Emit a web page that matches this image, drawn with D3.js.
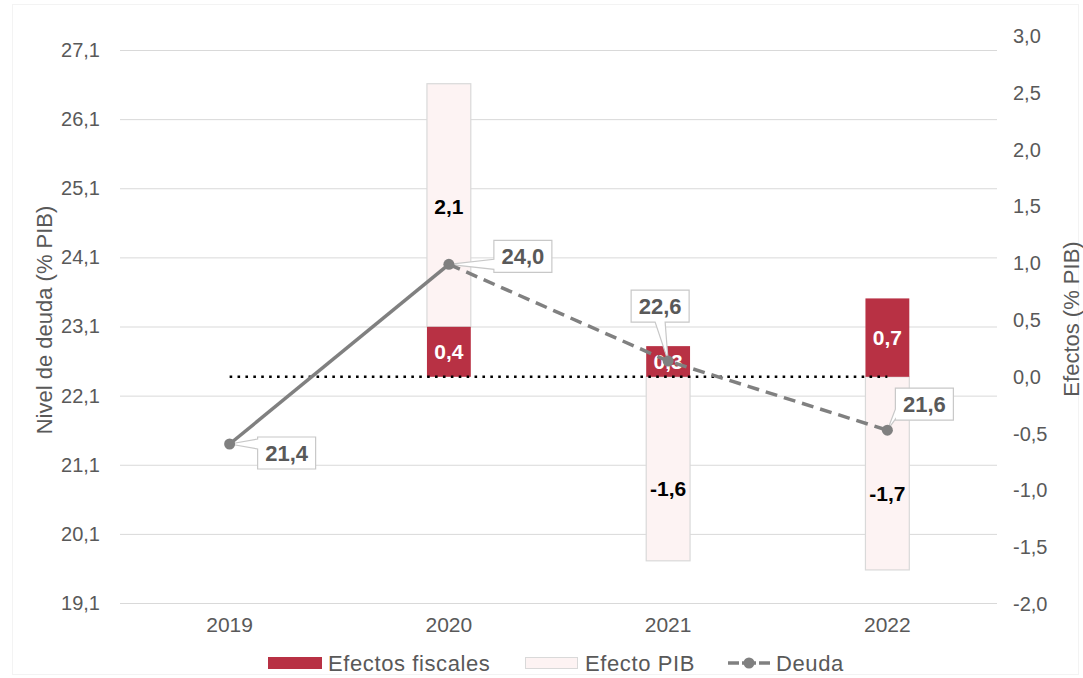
<!DOCTYPE html>
<html>
<head>
<meta charset="utf-8">
<script src="https://cdn.jsdelivr.net/npm/d3@7"></script>
<style>
  html, body { margin: 0; padding: 0; background: #ffffff; }
  svg { display: block; font-family: "Liberation Sans", Arial, sans-serif; }
</style>
</head>
<body>
<svg id="chart" width="1083" height="678"></svg>
<script>
// ---- data ----
const years = ["2019", "2020", "2021", "2022"];
const fiscal = [null, 0.44, 0.27, 0.69];      // Efectos fiscales (right axis)
const pib = [null, 2.14, -1.62, -1.70];       // Efecto PIB (right axis)
const deuda = [21.4, 24.0, 22.6, 21.6];       // Deuda (left axis)
const leftTicks = [19.1, 20.1, 21.1, 22.1, 23.1, 24.1, 25.1, 26.1, 27.1];
const rightTicks = [-2.0, -1.5, -1.0, -0.5, 0.0, 0.5, 1.0, 1.5, 2.0, 2.5, 3.0];
const legendItems = ["Efectos fiscales", "Efecto PIB", "Deuda"];

// ---- layout (not data) ----
const calloutOffsets = [[57, 9], [74, -8], [-8, -55], [37, -26]];
const legendX = [268, 525, 728];
const colFiscal = "#b83144", colPib = "#fdf3f3", colPibStroke = "#d9d9d9";
const colLine = "#808080", colText = "#595959", colGrid = "#d9d9d9";

const loc = d3.formatLocale({decimal: ",", thousands: ".", grouping: [3], currency: ["", "€"], minus: "-"});
const f1 = loc.format(".1f");

const svg = d3.select("#chart");
const plotL = 120, plotR = 997;

const x = d3.scaleBand().domain(years).range([plotL, plotR]);
const cx = d => x(d) + x.bandwidth() / 2;
const barW = x.bandwidth() * 0.2;
const yL = d3.scaleLinear().domain([19.1, 27.1]).range([603, 50]);
const yR = d3.scaleLinear().domain([-2, 3]).range([604, 36]);

// faint chart border
svg.append("rect").attr("x", 12.5).attr("y", 4.5).attr("width", 1066).attr("height", 670)
  .attr("fill", "none").attr("stroke", "#f3f3f3");

// gridlines + left axis
const gL = svg.append("g").attr("transform", `translate(${plotL},0)`)
  .call(d3.axisLeft(yL).tickValues(leftTicks).tickFormat(f1).tickSize(-(plotR - plotL)).tickPadding(20));
gL.select(".domain").remove();
gL.selectAll(".tick line").attr("stroke", colGrid);
gL.selectAll(".tick text").attr("fill", colText).style("font-size", "20px");

// right axis (labels only)
const gR = svg.append("g").attr("transform", `translate(${plotR},0)`)
  .call(d3.axisRight(yR).tickValues(rightTicks).tickFormat(f1).tickSize(0).tickPadding(16));
gR.select(".domain").remove();
gR.selectAll(".tick text").attr("fill", colText).style("font-size", "20px");

// x axis labels
const gX = svg.append("g").attr("transform", `translate(0,603)`)
  .call(d3.axisBottom(x).tickSize(0).tickPadding(14));
gX.select(".domain").remove();
gX.selectAll(".tick text").attr("fill", colText).style("font-size", "21px");

// axis titles
svg.append("text").attr("transform", `translate(52,320) rotate(-90)`).attr("text-anchor", "middle")
  .attr("fill", colText).style("font-size", "22px").text("Nivel de deuda (% PIB)");
svg.append("text").attr("transform", `translate(1079,319) rotate(-90)`).attr("text-anchor", "middle")
  .attr("fill", colText).style("font-size", "22px").text("Efectos (% PIB)");

// bars
const rows = years.map((yr, i) => ({yr, fiscal: fiscal[i], pib: pib[i], deuda: deuda[i]}));
const barG = svg.append("g");
rows.forEach(r => {
  if (r.fiscal == null) return;
  const base = r.pib >= 0 ? r.fiscal : 0;
  const p0 = yR(base), p1 = yR(base + r.pib);
  barG.append("rect").attr("x", cx(r.yr) - barW / 2).attr("width", barW)
    .attr("y", Math.min(p0, p1)).attr("height", Math.abs(p1 - p0))
    .attr("fill", colPib).attr("stroke", colPibStroke).attr("stroke-width", 1.2);
  const f0 = yR(0), fv = yR(r.fiscal);
  barG.append("rect").attr("x", cx(r.yr) - barW / 2).attr("width", barW)
    .attr("y", Math.min(f0, fv)).attr("height", Math.abs(fv - f0))
    .attr("fill", colFiscal);
  barG.append("text").attr("x", cx(r.yr)).attr("y", (f0 + fv) / 2).attr("dy", "0.36em")
    .attr("text-anchor", "middle").attr("fill", "#ffffff").style("font-size", "21px").style("font-weight", "bold")
    .text(f1(r.fiscal));
  const pc = (p0 + p1) / 2 + (r.pib < 0 ? 20 : 1);
  barG.append("text").attr("x", cx(r.yr)).attr("y", pc).attr("dy", "0.36em")
    .attr("text-anchor", "middle").attr("fill", "#000000").style("font-size", "21px").style("font-weight", "bold")
    .text(f1(r.pib));
});

// zero dotted line
svg.append("line").attr("x1", cx(years[0])).attr("x2", cx(years[years.length - 1]))
  .attr("y1", yR(0)).attr("y2", yR(0))
  .attr("stroke", "#000").attr("stroke-width", 2.6).attr("stroke-dasharray", "2.6,5.3");

// deuda line: solid first segment, dashed after
const lineG = svg.append("g");
const seg = d3.line().x(d => cx(d.yr)).y(d => yL(d.deuda));
lineG.append("path").datum(rows.slice(0, 2)).attr("d", seg).attr("fill", "none")
  .attr("stroke", colLine).attr("stroke-width", 3.5);
lineG.append("path").datum(rows.slice(1)).attr("d", seg).attr("fill", "none")
  .attr("stroke", colLine).attr("stroke-width", 3.5).attr("stroke-dasharray", "12,7");

// callouts
function calloutPath(px, py, bx, by, w, h) {
  const x0 = bx - w / 2, x1 = bx + w / 2, y0 = by - h / 2, y1 = by + h / 2;
  const cl = (v, a, b) => Math.max(a, Math.min(b, v));
  const hw = 5;
  let p = [];
  if (px < x0) {
    const m = cl(py, y0 + hw + 1, y1 - hw - 1);
    p = [[x0, y0], [x1, y0], [x1, y1], [x0, y1], [x0, m + hw], [px, py], [x0, m - hw]];
  } else if (px > x1) {
    const m = cl(py, y0 + hw + 1, y1 - hw - 1);
    p = [[x0, y0], [x1, y0], [x1, m - hw], [px, py], [x1, m + hw], [x1, y1], [x0, y1]];
  } else if (py > y1) {
    const m = cl(px - 8, x0 + hw + 1, x1 - hw - 1);
    p = [[x0, y0], [x1, y0], [x1, y1], [m + hw, y1], [px, py], [m - hw, y1], [x0, y1]];
  } else {
    const m = cl(px, x0 + hw + 1, x1 - hw - 1);
    p = [[x0, y0], [m - hw, y0], [px, py], [m + hw, y0], [x1, y0], [x1, y1], [x0, y1]];
  }
  return "M" + p.map(q => q.join(",")).join("L") + "Z";
}
const calG = svg.append("g");
rows.forEach((r, i) => {
  const px = cx(r.yr), py = yL(r.deuda);
  const bx = px + calloutOffsets[i][0], by = py + calloutOffsets[i][1];
  calG.append("path").attr("d", calloutPath(px, py, bx, by, 58, 32))
    .attr("fill", "#ffffff").attr("stroke", "#c8c8c8").attr("stroke-width", 1.2);
  calG.append("text").attr("x", bx).attr("y", by).attr("dy", "0.36em").attr("text-anchor", "middle")
    .attr("fill", colText).style("font-size", "22px").style("font-weight", "bold").text(f1(r.deuda));
});

// markers
lineG.selectAll("circle").data(rows).join("circle")
  .attr("cx", d => cx(d.yr)).attr("cy", d => yL(d.deuda)).attr("r", 5.5).attr("fill", colLine);
svg.node().appendChild(lineG.node());

// legend
const leg = svg.append("g").attr("transform", "translate(0,663)");
legendItems.forEach((name, i) => {
  const g = leg.append("g").attr("transform", `translate(${legendX[i]},0)`);
  if (i === 0) {
    g.append("rect").attr("x", 0).attr("y", -6).attr("width", 54).attr("height", 12).attr("fill", colFiscal);
  } else if (i === 1) {
    g.append("rect").attr("x", 0.5).attr("y", -5.5).attr("width", 52).attr("height", 11)
      .attr("fill", colPib).attr("stroke", colPibStroke);
  } else {
    g.append("line").attr("x1", 0).attr("x2", 11).attr("y1", 0).attr("y2", 0).attr("stroke", colLine).attr("stroke-width", 3.5);
    g.append("line").attr("x1", 31).attr("x2", 42).attr("y1", 0).attr("y2", 0).attr("stroke", colLine).attr("stroke-width", 3.5);
    g.append("line").attr("x1", 14).attr("x2", 28).attr("y1", 0).attr("y2", 0).attr("stroke", colLine).attr("stroke-width", 3.5);
    g.append("circle").attr("cx", 21).attr("cy", 0).attr("r", 5.5).attr("fill", colLine);
  }
  const sw = i === 2 ? 42 : 54;
  g.append("text").attr("x", sw + 6).attr("y", 0).attr("dy", "0.36em")
    .attr("fill", colText).style("font-size", "22px").style("letter-spacing", "0.6px").text(name);
});
</script>
</body>
</html>
